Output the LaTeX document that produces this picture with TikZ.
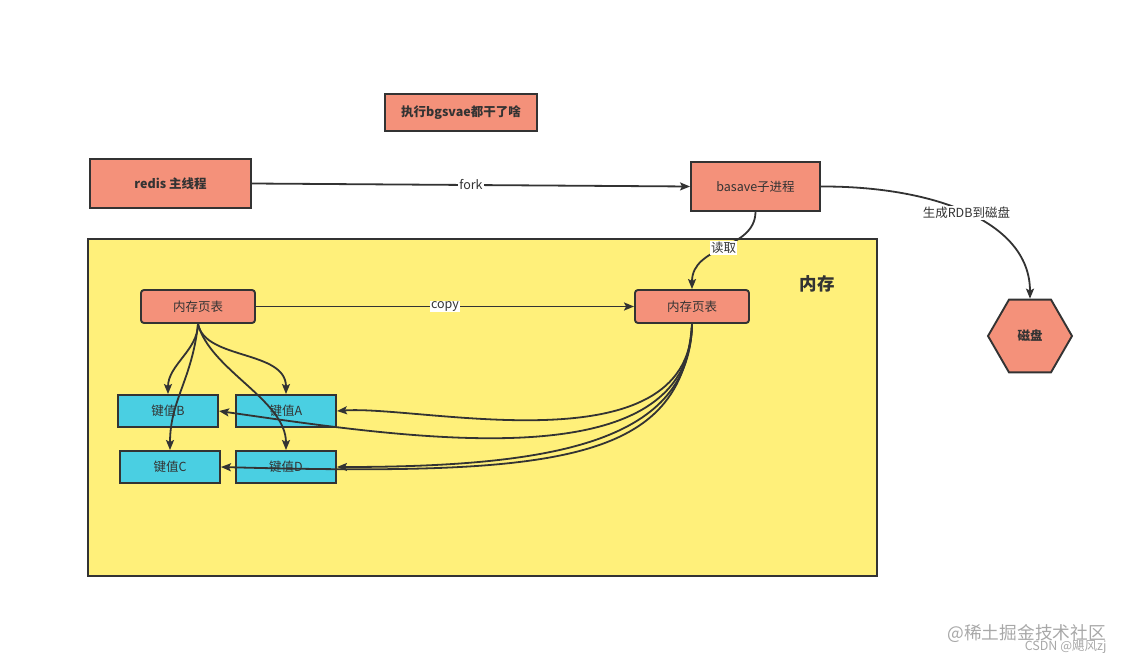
\documentclass[tikz,border=0pt]{standalone}
\usepackage{fontspec}
\setmainfont{Noto Sans CJK SC}
\usetikzlibrary{arrows.meta,shapes.geometric}
\definecolor{salmon}{HTML}{F4917A}
\definecolor{cyanbox}{HTML}{4ACFE2}
\definecolor{memyellow}{HTML}{FFF07A}
\definecolor{ink}{HTML}{333333}
\definecolor{wm}{HTML}{A8A8A8}
\tikzset{
  base/.style={draw=ink,line width=1.9pt,text=ink,inner sep=0pt,font=\fontsize{12.5}{14}\selectfont},
  proc/.style={base,fill=salmon,minimum width=161pt,minimum height=49pt},
  ptable/.style={base,fill=salmon,rounded corners=3pt,minimum width=114pt,minimum height=33pt},
  kv/.style={base,fill=cyanbox,minimum width=100pt,minimum height=32pt},
  conn/.style={draw=ink,line width=1.8pt,-{Stealth[length=10pt,width=8pt,inset=2pt]}},
  lbl/.style={fill=white,text=ink,inner sep=1pt,font=\fontsize{12.5}{14}\selectfont},
}
\begin{document}
\begin{tikzpicture}[x=1pt,y=-1pt]
\useasboundingbox (0,0) rectangle (1125,664);
% memory area
\node[draw=ink,line width=1.6pt,fill=memyellow,minimum width=789pt,minimum height=337pt,inner sep=0pt] (mem) at (482.5,407.5) {};
\node[text=ink,font=\fontsize{17.5}{19}\selectfont\bfseries] (memlbl) at (817,284) {内存};
% nodes
\node[proc,minimum width=152pt,minimum height=37pt,font=\fontsize{12.5}{14}\selectfont\bfseries] (title) at (461,112.5) {执行bgsvae都干了啥};
\node[proc,font=\fontsize{12.5}{14}\selectfont\bfseries] (redis) at (170.5,183.5) {redis 主线程};
\node[proc,minimum width=129pt] (child) at (755.5,186.5) {basave子进程};
\node[ptable] (ptl) at (198,306.5) {内存页表};
\node[ptable] (ptr) at (692,306.5) {内存页表};
\node[kv] (kb) at (168,411) {键值B};
\node[kv] (ka) at (286,411) {键值A};
\node[kv] (kc) at (170,467) {键值C};
\node[kv] (kd) at (286,467) {键值D};
\node[base,fill=salmon,regular polygon,regular polygon sides=6,minimum size=84pt,font=\fontsize{12.5}{14}\selectfont\bfseries] (disk) at (1030,336) {磁盘};
% connectors
\draw[conn] (redis.east) -- node[lbl]{fork} (child.west);
\draw[conn] (child.east) .. controls (930,186) and (1030,220) .. node[lbl,pos=0.5]{生成RDB到磁盘} (disk.north);
\draw[conn] (child.south) .. controls (755,250) and (692,245) .. node[lbl,pos=0.5]{读取} (ptr.north);
\draw[conn] (ptl.east) -- node[lbl]{copy} (ptr.west);
\draw[conn] (ptl.south) .. controls (198,350) and (168,365) .. (kb.north);
\draw[conn] (ptl.south) .. controls (192,380) and (170,400) .. (kc.north);
\draw[conn] (ptl.south) .. controls (205,360) and (286,350) .. (ka.north);
\draw[conn] (ptl.south) .. controls (210,370) and (286,400) .. (kd.north);
\draw[conn] (ptr.south) .. controls (690,470) and (420,405) .. (ka.east);
\draw[conn] (ptr.south) .. controls (690,480) and (420,440) .. (kb.east);
\draw[conn] (ptr.south) .. controls (690,440) and (560,467) .. (kd.east);
\draw[conn] (ptr.south) .. controls (682,462) and (560,476) .. (kc.east);
% watermark
\node[text=wm,font=\fontsize{17.7}{19}\selectfont,anchor=west] (wm1) at (944,634) {@稀土掘金技术社区};
\node[text=wm,font=\fontsize{12.5}{13}\selectfont,anchor=east] (wm2) at (1110,647) {CSDN @飓风zj};
\end{tikzpicture}
\end{document}
